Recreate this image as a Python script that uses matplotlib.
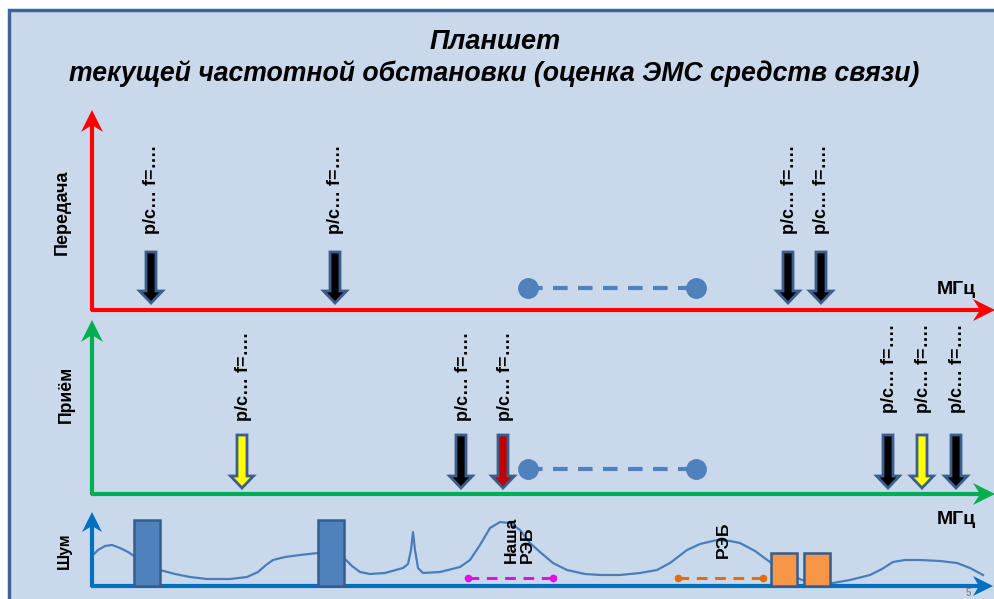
import matplotlib
matplotlib.use('Agg')
import matplotlib.pyplot as plt
import matplotlib.patches as mpatches
import numpy as np

# frequency scale positions (image px along the axis)
tx_freqs = [151, 335, 788, 821]
tx_colors = ['black', 'black', 'black', 'black']
rx_freqs = [242, 461, 503, 888, 922, 956]
rx_colors = ['#FFFF00', 'black', '#C00000', 'black', '#FFFF00', 'black']
band = [528, 696]
station_label = 'р/с… f=….'

noise_bars_blue = [147, 331]
noise_bars_orange = [784, 817]
our_ew = [468, 553]
their_ew = [678, 763]

noise_x = [92, 98, 105, 112, 120, 128, 134, 160, 175, 190, 207, 230, 247, 258,
           266, 273, 285, 300, 318, 344, 352, 360, 370, 385, 403, 408, 411, 413,
           415, 418, 423, 440, 460, 470, 480, 490, 500, 510, 520, 530, 540, 553,
           567, 585, 600, 620, 640, 657, 670, 687, 700, 717, 730, 740, 755, 770,
           785, 802, 815, 833, 850, 870, 882, 893, 905, 920, 940, 957, 970, 983]
noise_y = [556, 550, 546, 545, 548, 552, 556, 570, 574, 577, 579, 579, 577, 572,
           565, 560, 557, 555, 553, 558, 566, 572, 574, 573, 568, 564, 550, 532,
           550, 568, 573, 572, 567, 560, 545, 528, 522, 523, 530, 543, 552, 563,
           570, 574, 575, 575, 573, 570, 563, 550, 544, 540, 541, 543, 551, 562,
           572, 580, 583, 583, 580, 575, 569, 562, 560, 560, 561, 563, 568, 575]

W, H = 995, 599
fig = plt.figure(figsize=(W / 100, H / 100), dpi=100)
fig.patch.set_facecolor('white')
ax = fig.add_axes([0, 0, 1, 1])
ax.set_xlim(0, W)
ax.set_ylim(H, 0)
ax.axis('off')

ax.add_patch(mpatches.Rectangle((8.5, 9.5), 1000, 600, facecolor='#C9D9EB',
                                edgecolor='#3F6596', lw=2.5, zorder=0))

bold = dict(family=['Liberation Sans', 'DejaVu Sans'], fontweight='bold')
title_font = dict(family=['Liberation Sans Narrow', 'Liberation Sans', 'DejaVu Sans'],
                  fontweight='bold', fontstyle='italic')
ax.text(495, 42, 'Планшет', ha='center', va='center', fontsize=19.5, **title_font)
ax.text(494, 74, 'текущей частотной обстановки (оценка ЭМС средств связи)',
        ha='center', va='center', fontsize=19.2, **title_font)


def axis_arrow(x0, y0, x1, y1, color, L=22, Wd=22, notch=7, lw=3):
    d = np.array([x1 - x0, y1 - y0], float)
    d /= np.hypot(*d)
    n = np.array([-d[1], d[0]])
    tip = np.array([x1, y1], float)
    back = tip - d * L
    nt = tip - d * (L - notch)
    ax.plot([x0, nt[0]], [y0, nt[1]], color=color, lw=lw, solid_capstyle='butt', zorder=3)
    pts = [tip, back + n * Wd / 2, nt, back - n * Wd / 2]
    ax.add_patch(mpatches.Polygon(pts, closed=True, facecolor=color, edgecolor='none', zorder=3))


def down_arrow(x, y0, y1, fc):
    ax.add_patch(mpatches.FancyArrow(x, y0, 0, y1 - y0, width=10, head_width=23,
                                     head_length=12, length_includes_head=True,
                                     facecolor=fc, edgecolor='#3B5E8C', lw=2, zorder=4))


def station_text(x, y_bottom):
    ax.text(x, y_bottom, station_label, rotation=90, rotation_mode='anchor',
            ha='left', va='center', fontsize=13, **bold)


# transmit
axis_arrow(92, 311, 92, 110, '#FF0000')
axis_arrow(90.5, 310, 995, 310, '#FF0000')
ax.text(62, 212, 'Передача', rotation=90, ha='center', va='center', fontsize=13, **bold)
ax.text(956, 289, 'МГц', ha='center', va='center', fontsize=14, **bold)
for f, c in zip(tx_freqs, tx_colors):
    down_arrow(f, 252, 303, c)
    station_text(f + 1, 234)
ax.plot(band, [288, 288], color='#4F81BD', lw=3, dashes=(3.5, 2.5), zorder=3)
ax.plot(band, [288, 288], 'o', color='#4F81BD', ms=14, zorder=3)

# receive
axis_arrow(92, 495, 92, 320, '#00B050')
axis_arrow(90.5, 494, 995, 494, '#00B050')
ax.text(66, 394, 'Приём', rotation=90, ha='center', va='center', fontsize=12.7, **bold)
ax.text(956, 520, 'МГц', ha='center', va='center', fontsize=14, **bold)
for i, (f, c) in enumerate(zip(rx_freqs, rx_colors)):
    down_arrow(f, 435, 488, c)
    station_text(f + 2, 421 if i < 3 else 413)
ax.plot(band, [469, 469], color='#4F81BD', lw=3, dashes=(3.5, 2.5), zorder=3)
ax.plot(band, [469, 469], 'o', color='#4F81BD', ms=14, zorder=3)

# noise
ax.plot(noise_x, noise_y, color='#4A7EBB', lw=1.6, zorder=2)
axis_arrow(92, 587, 92, 512, '#0070C0', L=20, Wd=20, notch=6)
axis_arrow(90.5, 586, 993, 586, '#0070C0', L=20, Wd=20, notch=6)
ax.text(64, 551, 'Шум', rotation=90, ha='center', va='center', fontsize=11.5, **bold)
for x in noise_bars_blue:
    ax.add_patch(mpatches.Rectangle((x - 13, 520), 26, 66, facecolor='#4F81BD',
                                    edgecolor='#385D8A', lw=1.8, zorder=4))
for x in noise_bars_orange:
    ax.add_patch(mpatches.Rectangle((x - 13, 553), 26, 33, facecolor='#F79646',
                                    edgecolor='#385D8A', lw=1.8, zorder=4))
ax.plot(our_ew, [578, 578], color='#E010E0', lw=2.2, dashes=(3.5, 2.5), zorder=3)
ax.plot(our_ew, [578, 578], 'o', color='#E010E0', ms=4.5, zorder=3)
ax.plot(their_ew, [578, 578], color='#E46C0A', lw=2.2, dashes=(3.5, 2.5), zorder=3)
ax.plot(their_ew, [578, 578], 'o', color='#E46C0A', ms=4.5, zorder=3)
ax.text(519, 563, 'Наша\nРЭБ', rotation=90, rotation_mode='anchor', ha='left',
        va='center', multialignment='left', fontsize=12.5, linespacing=1.1, **bold)
ax.text(723, 558, 'РЭБ', rotation=90, rotation_mode='anchor', ha='left',
        va='center', fontsize=12.5, **bold)
ax.text(968, 598, '5', ha='center', va='bottom', fontsize=7, color='#8C8C8C',
        **bold)

fig.savefig('out.png', dpi=100, facecolor=fig.get_facecolor())
